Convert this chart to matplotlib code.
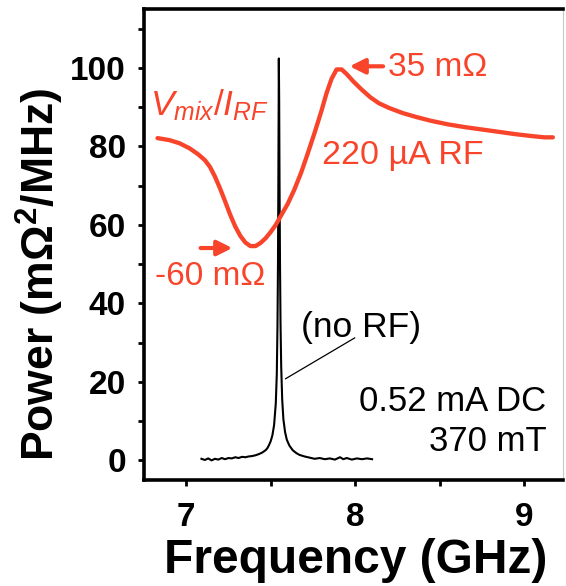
import matplotlib
matplotlib.use("Agg")
import matplotlib.pyplot as plt
from matplotlib.ticker import MultipleLocator

plt.rcParams["font.family"] = ["Liberation Sans", "DejaVu Sans"]
plt.rcParams["mathtext.fontset"] = "custom"
plt.rcParams["mathtext.it"] = "Liberation Sans:italic"
plt.rcParams["mathtext.rm"] = "Liberation Sans"
plt.rcParams["mathtext.bf"] = "Liberation Sans:bold"

RED = "#f8442a"

# Mixing response V_mix/I_RF with 220 uA RF drive
mix_freq = [6.83, 6.90, 6.96, 7.02, 7.07, 7.11, 7.14, 7.17, 7.20, 7.23, 7.26,
            7.29, 7.32, 7.35, 7.38, 7.41, 7.44, 7.47, 7.50, 7.53, 7.56, 7.60,
            7.64, 7.68, 7.72, 7.76, 7.80, 7.83, 7.86, 7.89, 7.92, 7.95, 7.99,
            8.04, 8.09, 8.14, 8.20, 8.28, 8.36, 8.45, 8.55, 8.65, 8.75, 8.85,
            8.95, 9.05, 9.12, 9.17]
mix_power = [82.1, 81.6, 80.8, 79.5, 78.0, 76.5, 74.8, 72.3, 69.3, 66.0, 62.6,
             59.6, 57.2, 55.5, 54.6, 54.6, 55.4, 56.6, 58.2, 60.0, 62.3, 65.3,
             69.0, 73.3, 78.3, 83.5, 89.0, 93.5, 97.2, 99.6, 99.6, 98.4, 96.5,
             94.4, 92.5, 91.0, 89.8, 88.5, 87.5, 86.5, 85.6, 84.9, 84.3, 83.7,
             83.1, 82.6, 82.3, 82.3]

# Oscillation spectrum without RF drive
spec_freq = [7.09, 7.11, 7.13, 7.15, 7.17, 7.19, 7.21, 7.23, 7.25, 7.27, 7.29,
             7.31, 7.33, 7.35, 7.37, 7.39, 7.41, 7.43, 7.45, 7.47, 7.48, 7.49,
             7.50, 7.51, 7.52, 7.53, 7.536, 7.540, 7.543, 7.545, 7.547, 7.548,
             7.550, 7.552, 7.555, 7.558, 7.562, 7.568, 7.575, 7.585, 7.595,
             7.61, 7.63, 7.65, 7.67, 7.70, 7.73, 7.76, 7.79, 7.82, 7.85, 7.88,
             7.91, 7.93, 7.95, 7.98, 8.01, 8.04, 8.07, 8.10]
spec_power = [0.4, 0.1, 0.5, 0.0, 0.4, 0.2, 0.6, 0.3, 0.6, 0.5, 0.8,
              0.6, 0.9, 0.8, 1.0, 1.1, 1.3, 1.6, 2.0, 2.6, 3.1, 3.9,
              4.9, 6.4, 9.0, 14.5, 22.0, 34.0, 50.0, 68.0, 90.0, 102.4,
              92.0, 72.0, 50.0, 35.0, 24.0, 15.5, 10.5, 7.2, 5.3,
              3.8, 2.6, 1.9, 1.4, 1.0, 0.7, 0.4, 0.6, 0.3, 0.5, 0.2,
              0.8, 0.3, 0.6, 0.2, 0.5, 0.3, 0.5, 0.3]

x_ticks = [7, 8, 9]
y_ticks = [0, 20, 40, 60, 80, 100]

fig = plt.figure(figsize=(5.66, 5.86), dpi=100)
ax = fig.add_axes([144 / 566, 1 - 480 / 586, 419 / 566, 471 / 586])

ax.plot(spec_freq, spec_power, color="black", lw=1.5, zorder=2)
ax.plot(mix_freq, mix_power, color=RED, lw=3.1, solid_capstyle="round",
        solid_joinstyle="round", zorder=3)

ax.set_xlim(6.75, 9.23)
ax.set_ylim(-5, 115)
ax.set_xticks(x_ticks)
ax.set_yticks(y_ticks)
ax.xaxis.set_minor_locator(MultipleLocator(0.5))
ax.yaxis.set_minor_locator(MultipleLocator(10))
ax.tick_params(which="both", direction="out", length=4, width=2, color="black",
               top=False, right=False)
ax.tick_params(axis="x", which="major", pad=12, labelsize=24)
ax.tick_params(axis="y", which="major", pad=9, labelsize=24)
for lab in ax.get_xticklabels() + ax.get_yticklabels():
    lab.set_fontweight("bold")

for side in ("left", "top", "bottom"):
    ax.spines[side].set_linewidth(2.6)
    ax.spines[side].set_color("black")
ax.spines["right"].set_linewidth(0.8)
ax.spines["right"].set_color("#c8c8c8")

fig.text(356 / 566, 1 - 573 / 586, "Frequency (GHz)", fontsize=34.5,
         fontweight="bold", ha="center", va="baseline")
fig.text(40 / 566, 1 - 274 / 586, r"Power (mΩ$^{\mathbf{2}}$/MHz)",
         fontsize=32, fontweight="bold", ha="center", va="center",
         rotation=90)

# Annotations
ax.text(6.787, 87.9, r"$V_{mix}/I_{RF}$", color=RED, fontsize=25.5,
        ha="left", va="baseline")
ax.text(7.806, 75.4, "220 µA RF", color=RED, fontsize=24.5, ha="left",
        va="baseline")
ax.text(8.194, 98.0, "35 mΩ", color=RED, fontsize=24, ha="left",
        va="baseline")
ax.text(6.818, 44.8, "-60 mΩ", color=RED, fontsize=24, ha="left",
        va="baseline")
arrow_style = dict(arrowstyle="-|>,head_length=0.9,head_width=0.45",
                   color=RED, lw=3.0, shrinkA=0, shrinkB=0)
ax.annotate("", xy=(7.967, 100.4), xytext=(8.165, 100.4),
            arrowprops=arrow_style)
ax.annotate("", xy=(7.273, 54.1), xytext=(7.085, 54.1),
            arrowprops=arrow_style)

ax.text(7.681, 31.5, "(no RF)", color="black", fontsize=25.5, ha="left",
        va="baseline")
ax.plot([7.997, 7.588], [31.2, 20.8], color="black", lw=0.9)
ax.text(9.133, 12.6, "0.52 mA DC", color="black", fontsize=25, ha="right",
        va="baseline")
ax.text(9.133, 2.5, "370 mT", color="black", fontsize=25, ha="right",
        va="baseline")

fig.savefig("out.png", dpi=100)
